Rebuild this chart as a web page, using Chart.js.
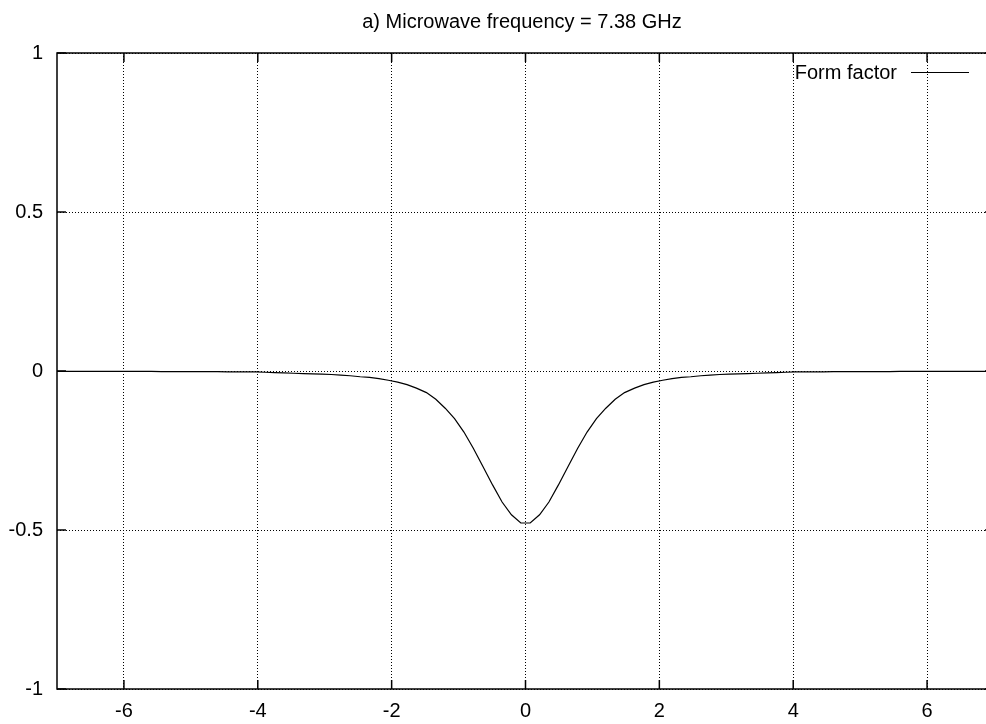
<!DOCTYPE html>
<html>
<head>
<meta charset="utf-8">
<title>Form factor</title>
<script src="https://cdn.jsdelivr.net/npm/chart.js@4.4.1/dist/chart.umd.min.js"></script>
<style>
    html, body { margin: 0; padding: 0; background: #fff; overflow: hidden; }
    #wrap { width: 994px; height: 724px; }
</style>
</head>
<body>
<div id="wrap"><canvas id="formFactorChart"></canvas></div>
<script>
// Data (gnuplot style, 100 samples across -7..7)
const titleText = 'a) Microwave frequency = 7.38 GHz';
const seriesLabel = 'Form factor';

const xValues = [
    -7.00, -6.86, -6.72, -6.58, -6.43, -6.29, -6.15, -6.01, -5.87, -5.73,
    -5.59, -5.44, -5.30, -5.16, -5.02, -4.88, -4.74, -4.60, -4.45, -4.31,
    -4.17, -4.03, -3.89, -3.75, -3.61, -3.46, -3.32, -3.18, -3.04, -2.90,
    -2.76, -2.62, -2.47, -2.33, -2.19, -2.05, -1.91, -1.77, -1.63, -1.48,
    -1.34, -1.20, -1.06, -0.92, -0.78, -0.64, -0.49, -0.35, -0.21, -0.07,
    0.07, 0.21, 0.35, 0.49, 0.64, 0.78, 0.92, 1.06, 1.20, 1.34,
    1.48, 1.63, 1.77, 1.91, 2.05, 2.19, 2.33, 2.47, 2.62, 2.76,
    2.90, 3.04, 3.18, 3.32, 3.46, 3.61, 3.75, 3.89, 4.03, 4.17,
    4.31, 4.45, 4.60, 4.74, 4.88, 5.02, 5.16, 5.30, 5.44, 5.59,
    5.73, 5.87, 6.01, 6.15, 6.29, 6.43, 6.58, 6.72, 6.86, 7.00
];

const formFactor = [
    -0.001, -0.001, -0.001, -0.001, -0.001, -0.001, -0.001, -0.001, -0.001, -0.001,
    -0.001, -0.002, -0.002, -0.002, -0.002, -0.002, -0.002, -0.002, -0.003, -0.003,
    -0.003, -0.003, -0.004, -0.005, -0.006, -0.007, -0.008, -0.009, -0.010, -0.011,
    -0.013, -0.015, -0.018, -0.020, -0.024, -0.029, -0.035, -0.043, -0.054, -0.068,
    -0.089, -0.117, -0.150, -0.192, -0.243, -0.299, -0.359, -0.412, -0.452, -0.478,
    -0.478, -0.452, -0.412, -0.359, -0.299, -0.243, -0.192, -0.150, -0.117, -0.089,
    -0.068, -0.054, -0.043, -0.035, -0.029, -0.024, -0.020, -0.018, -0.015, -0.013,
    -0.011, -0.010, -0.009, -0.008, -0.007, -0.006, -0.005, -0.004, -0.003, -0.003,
    -0.003, -0.003, -0.002, -0.002, -0.002, -0.002, -0.002, -0.002, -0.002, -0.001,
    -0.001, -0.001, -0.001, -0.001, -0.001, -0.001, -0.001, -0.001, -0.001, -0.001
];

const xTicks = [-6, -4, -2, 0, 2, 4, 6];
const yTicks = [-1, -0.5, 0, 0.5, 1];

const FONT = 'Liberation Sans, Arial, sans-serif';

// frame, inward tick marks, title and key, drawn the gnuplot way
const gnuplotFrame = {
    id: 'gnuplotFrame',
    afterDraw(chart) {
        const { ctx, chartArea: a, scales } = chart;
        ctx.save();
        ctx.strokeStyle = '#000';
        ctx.lineWidth = 1.5;
        ctx.strokeRect(a.left, a.top, a.right - a.left, a.bottom - a.top);

        ctx.beginPath();
        xTicks.forEach(v => {
            const px = scales.x.getPixelForValue(v);
            ctx.moveTo(px, a.bottom); ctx.lineTo(px, a.bottom - 9);
            ctx.moveTo(px, a.top); ctx.lineTo(px, a.top + 9);
        });
        yTicks.forEach(v => {
            const py = scales.y.getPixelForValue(v);
            ctx.moveTo(a.left, py); ctx.lineTo(a.left + 9, py);
            ctx.moveTo(a.right, py); ctx.lineTo(a.right - 9, py);
        });
        ctx.stroke();

        // title
        ctx.fillStyle = '#000';
        ctx.font = '20px ' + FONT;
        ctx.textAlign = 'center';
        ctx.textBaseline = 'middle';
        ctx.fillText(titleText, 522, 22);

        // key
        ctx.textAlign = 'right';
        ctx.fillText(chart.data.datasets[0].label, 897, 73);
        ctx.lineWidth = 1;
        ctx.beginPath();
        ctx.moveTo(911, 72.5);
        ctx.lineTo(969, 72.5);
        ctx.stroke();
        ctx.restore();
    }
};

document.addEventListener('DOMContentLoaded', function() {
    const ctx = document.getElementById('formFactorChart').getContext('2d');
    const formFactorChart = new Chart(ctx, {
        type: 'line',
        data: {
            datasets: [{
                label: seriesLabel,
                data: xValues.map((x, i) => ({ x: x, y: formFactor[i] })),
                borderColor: '#000',
                borderWidth: 1.2,
                pointRadius: 0,
                tension: 0,
                fill: false
            }]
        },
        options: {
            responsive: true,
            maintainAspectRatio: false,
            animation: false,
            layout: { padding: { top: 53, left: 0, right: 0, bottom: 0 } },
            plugins: {
                legend: { display: false },
                title: { display: false },
                tooltip: { enabled: false }
            },
            scales: {
                x: {
                    type: 'linear',
                    min: -7,
                    max: 7,
                    afterBuildTicks: axis => { axis.ticks = xTicks.map(v => ({ value: v })); },
                    afterFit: scale => { scale.height = 35; },
                    grid: { color: '#000', lineWidth: 1, drawTicks: false },
                    border: { display: false, dash: [1, 2] },
                    ticks: {
                        color: '#000',
                        padding: 10,
                        maxRotation: 0,
                        font: { family: FONT, size: 20 },
                        callback: v => String(v)
                    }
                },
                y: {
                    min: -1,
                    max: 1,
                    afterBuildTicks: axis => { axis.ticks = yTicks.map(v => ({ value: v })); },
                    afterFit: scale => { scale.width = 57; },
                    grid: { color: '#000', lineWidth: 1, drawTicks: false },
                    border: { display: false, dash: [1, 2] },
                    ticks: {
                        color: '#000',
                        padding: 14,
                        font: { family: FONT, size: 20 },
                        callback: v => String(v)
                    }
                }
            }
        },
        plugins: [gnuplotFrame]
    });
});
</script>
</body>
</html>
